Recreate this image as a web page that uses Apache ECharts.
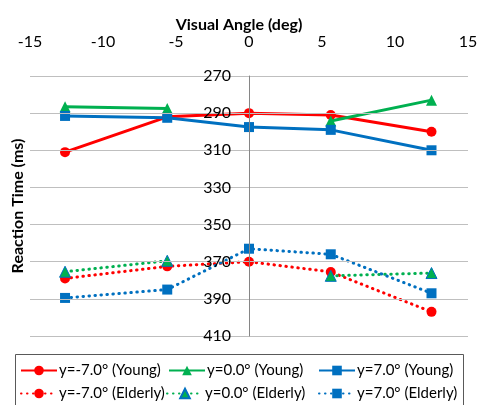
<!DOCTYPE html>
<html><head><meta charset="utf-8">
<script src="https://cdn.jsdelivr.net/npm/echarts@6/dist/echarts.min.js"></script>
<style>html,body{margin:0;padding:0;background:#fff}#c{width:478px;height:405px}</style>
</head><body><div id="c"></div>
<script>
const xValues = [-12.6, -5.6, 0, 5.6, 12.5];
const seriesNames = ['y=-7.0° (Young)', 'y=0.0° (Young)', 'y=7.0° (Young)', 'y=-7.0° (Elderly)', 'y=0.0° (Elderly)', 'y=7.0° (Elderly)'];
const redYoung = [311, 292, 290, 291, 300];
const greenYoung = [286.5, 287.5, null, 294.2, 283];
const blueYoung = [291.5, 292.5, 297.5, 299, 310];
const redElderly = [379, 372.5, 370, 375.5, 397];
const greenElderly = [375.4, 369.5, null, 377.6, 376.1];
const blueElderly = [389.5, 385, 363, 366, 387];
const xTicks = {min: -15, max: 15, interval: 5};
const yTicks = {min: 270, max: 410, interval: 20};

const FONT = 'Lato, "Open Sans", sans-serif';
const RED = '#FF0000', GREEN = '#00B050', BLUE = '#0070C0';
const GRID = {left:30, right:10, top:76, bottom:69};
const W = 478;
function pts(ys){ return xValues.map((x,i)=> ys[i]==null ? [x, '-'] : [x, ys[i]]); }
function mk(name, ys, color, symbol, dotted, border){
  return {
    name, type:'line', data: pts(ys), connectNulls:false,
    symbol, symbolSize: symbol==='triangle' ? 11 : 10,
    lineStyle:{color, width:3, type: dotted ? [0.5,5.5] : 'solid', cap: dotted ? 'round':'butt'},
    itemStyle:{color, borderColor: border || color, borderWidth: border ? 1 : 0},
    z: 3
  };
}
const series = [
  mk(seriesNames[0], redYoung, RED, 'circle', false),
  mk(seriesNames[1], greenYoung, GREEN, 'triangle', false),
  mk(seriesNames[2], blueYoung, BLUE, 'rect', false),
  mk(seriesNames[3], redElderly, RED, 'circle', true),
  mk(seriesNames[4], greenElderly, GREEN, 'triangle', true, BLUE),
  mk(seriesNames[5], blueElderly, BLUE, 'rect', true)
];
const legendPos = [[20,363],[168,363],[318,363],[20,386],[166,386],[318,386]];
const legends = seriesNames.map((n,i)=>({
  data:[n], left: legendPos[i][0], top: legendPos[i][1], padding:0,
  itemWidth:36, itemHeight:12, itemGap:0,
  textStyle:{fontFamily:FONT, fontSize:15, color:'#000', padding:[0,0,0,-3]},
  selectedMode:false
}));
// y axis sits at x = 0 of the value axis
const plotW = W - GRID.left - GRID.right;
const zeroOffset = -plotW * (0 - xTicks.min) / (xTicks.max - xTicks.min);
const chart = echarts.init(document.getElementById('c'), null, {renderer:'canvas'});
chart.setOption({
  animation:false,
  backgroundColor:'#fff',
  title:{text:'Visual Angle (deg)', left:'center', top:12, textStyle:{fontFamily:FONT, fontSize:16, fontWeight:'bold', color:'#000'}},
  grid:Object.assign({outerBoundsMode:'none', containLabel:false}, GRID),
  legend: legends,
  xAxis:{type:'value', position:'top', min:xTicks.min, max:xTicks.max, interval:xTicks.interval,
    axisLine:{show:false}, axisTick:{show:false}, splitLine:{show:false},
    axisLabel:{margin:26, fontFamily:FONT, fontSize:16, color:'#000'}},
  yAxis:{type:'value', inverse:true, min:yTicks.min, max:yTicks.max, interval:yTicks.interval, z:10,
    position:'left', offset: zeroOffset,
    axisLine:{show:true, onZero:false, lineStyle:{color:'#868686', width:1}},
    axisTick:{show:false},
    splitLine:{show:true, lineStyle:{color:'#BFBFBF', width:1}},
    axisLabel:{margin:18, fontFamily:FONT, fontSize:16, color:'#000'}},
  graphic:[
    {type:'text', x:18, y:206, rotation:Math.PI/2, style:{text:'Reaction Time (ms)', font:'bold 16px '+FONT, fill:'#000', align:'center', verticalAlign:'middle'}},
    {type:'rect', shape:{x:15.5, y:354.5, width:448, height:60}, style:{fill:'none', stroke:'#595959', lineWidth:1}, z:-1}
  ],
  series
});
</script></body></html>
